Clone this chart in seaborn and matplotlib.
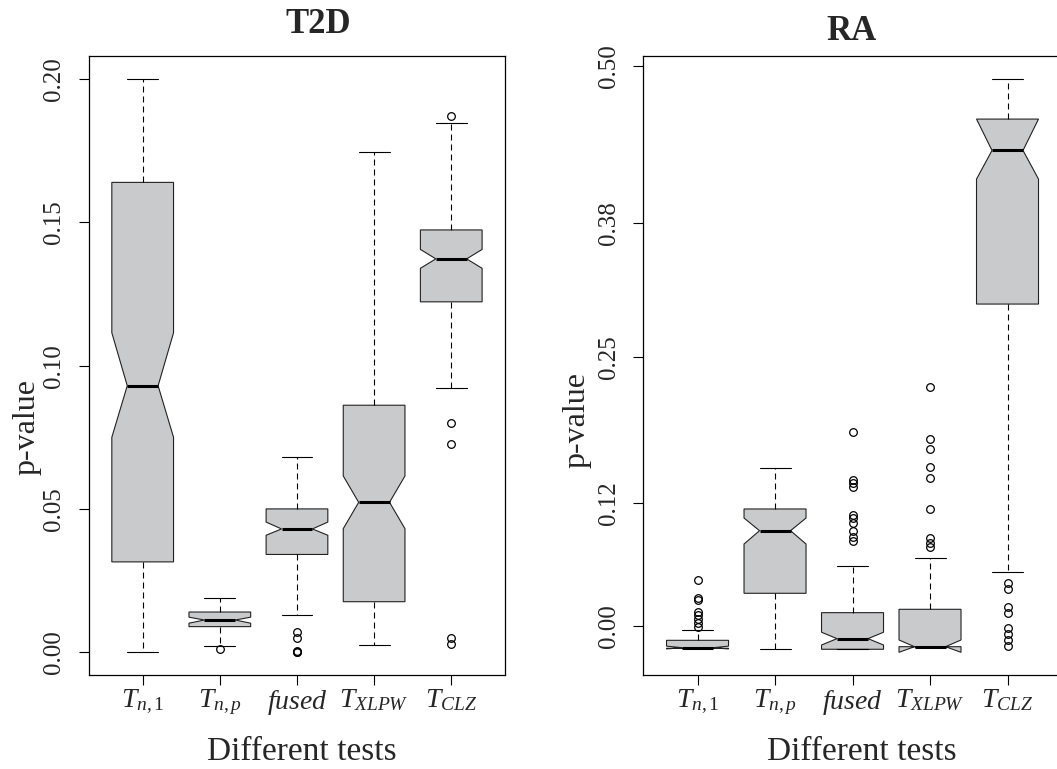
import matplotlib.pyplot as plt
import seaborn as sns

# test names on the x axis
tests = [r"$T_{n,1}$", r"$T_{n,p}$", r"$fused$", r"$T_{XLPW}$", r"$T_{CLZ}$"]

# T2D panel: box summaries
t2d_whislo = [0.0000, 0.0020, 0.0129, 0.0024, 0.0923]
t2d_q1 = [0.0315, 0.0089, 0.0341, 0.0176, 0.1223]
t2d_cilo = [0.0750, 0.0101, 0.0408, 0.0431, 0.1340]
t2d_med = [0.0930, 0.0112, 0.0430, 0.0523, 0.1373]
t2d_cihi = [0.1115, 0.0122, 0.0454, 0.0615, 0.1406]
t2d_q3 = [0.1640, 0.0140, 0.0500, 0.0862, 0.1474]
t2d_whishi = [0.2000, 0.0189, 0.0680, 0.1747, 0.1848]
t2d_fliers = [[], [0.0012], [0.0070, 0.0051, 0.0003, 0.0001, 0.0000], [],
              [0.1872, 0.0799, 0.0726, 0.0049, 0.0028]]
t2d_ticks = [0.00, 0.05, 0.10, 0.15, 0.20]
t2d_ticklabels = ["0.00", "0.05", "0.10", "0.15", "0.20"]

# RA panel
ra_whislo = [-0.0199, -0.0208, -0.0208, -0.0185, 0.0479]
ra_q1 = [-0.0199, 0.0292, -0.0208, -0.0185, 0.2875]
ra_cilo = [-0.0205, 0.0732, -0.0170, -0.0235, 0.3991]
ra_med = [-0.0194, 0.0851, -0.0113, -0.0185, 0.4247]
ra_cihi = [-0.0180, 0.0964, -0.0056, -0.0125, 0.4527]
ra_q3 = [-0.0128, 0.1045, 0.0119, 0.0149, 0.4527]
ra_whishi = [-0.0036, 0.1414, 0.0536, 0.0607, 0.4884]
ra_fliers = [[0.0413, 0.0250, 0.0232, 0.0122, 0.0098, 0.0060, 0.0030, -0.0006],
             [],
             [0.1729, 0.1304, 0.1274, 0.1244, 0.0991, 0.0961, 0.0917, 0.0851, 0.0798, 0.0762],
             [0.2137, 0.1673, 0.1577, 0.1417, 0.1324, 0.1042, 0.0789, 0.0744, 0.0708],
             [0.0387, 0.0328, 0.0167, 0.0113, -0.0021, -0.0071, -0.0125, -0.0179]]
ra_ticks = [0.00, 0.11, 0.24, 0.36, 0.50]
ra_ticklabels = ["0.00", "0.12", "0.25", "0.38", "0.50"]

sns.set_theme(style="white")
plt.rcParams['font.family'] = ['Liberation Serif', 'DejaVu Serif']
plt.rcParams['mathtext.fontset'] = 'custom'
plt.rcParams['mathtext.rm'] = 'Liberation Serif'
plt.rcParams['mathtext.it'] = 'Liberation Serif:italic'
plt.rcParams['mathtext.bf'] = 'Liberation Serif:bold'

fill = '#c9cacc'


def draw_panel(ax, whislo, q1, cilo, med, cihi, q3, whishi, fliers, ticks, ticklabels, ylim):
    stats = []
    for i in range(len(tests)):
        stats.append(dict(whislo=whislo[i], q1=q1[i], cilo=cilo[i], med=med[i], cihi=cihi[i],
                          q3=q3[i], whishi=whishi[i], fliers=fliers[i], label=tests[i]))
    ax.bxp(stats, positions=range(1, len(tests) + 1), widths=0.8, capwidths=0.4,
           shownotches=True, patch_artist=True, manage_ticks=False,
           boxprops=dict(facecolor=fill, edgecolor='#222222', linewidth=0.8),
           medianprops=dict(color='black', linewidth=2.2, solid_capstyle='butt'),
           whiskerprops=dict(color='black', linewidth=0.8, linestyle=(0, (5.4, 3.6))),
           capprops=dict(color='black', linewidth=0.8),
           flierprops=dict(marker='o', markerfacecolor='none', markeredgecolor='black',
                           markersize=5.5, markeredgewidth=0.9, linestyle='none'))
    ax.set_xlim(0.3, len(tests) + 0.7)
    ax.set_ylim(*ylim)
    ax.set_xticks(range(1, len(tests) + 1))
    ax.set_xticklabels(tests, fontsize=20)
    ax.set_yticks(ticks)
    ax.set_yticklabels(ticklabels, fontsize=18, rotation=90, va='center')
    ax.tick_params(axis='both', direction='out', length=7, width=0.8, color='black',
                   left=True, bottom=True)
    ax.tick_params(axis='y', pad=10)
    ax.tick_params(axis='x', pad=2)
    for s in ax.spines.values():
        s.set_visible(True)
        s.set_color('black')
        s.set_linewidth(0.9)
    ax.set_facecolor('white')


fig = plt.figure(figsize=(10.57, 7.69), dpi=100)
ax1 = fig.add_axes([0.0839, 0.1222, 0.3941, 0.8045])
ax2 = fig.add_axes([0.6086, 0.1222, 0.3959, 0.8045])

draw_panel(ax1, t2d_whislo, t2d_q1, t2d_cilo, t2d_med, t2d_cihi, t2d_q3, t2d_whishi,
           t2d_fliers, t2d_ticks, t2d_ticklabels, (-0.008, 0.208))
draw_panel(ax2, ra_whislo, ra_q1, ra_cilo, ra_med, ra_cihi, ra_q3, ra_whishi,
           ra_fliers, ra_ticks, ra_ticklabels, (-0.0438, 0.5087))

fig.text(0.3011, 0.9571, 'T2D', fontsize=25, fontweight='bold', ha='center', va='baseline')
fig.text(0.8054, 0.948, 'RA', fontsize=25, fontweight='bold', ha='center', va='baseline')
fig.text(0.2857, 0.0117, 'Different tests', fontsize=24, ha='center', va='baseline')
fig.text(0.8158, 0.0117, 'Different tests', fontsize=24, ha='center', va='baseline')
fig.text(0.0253, 0.4451, 'p-value', fontsize=23, rotation=90, ha='center', va='center')
fig.text(0.5456, 0.4538, 'p-value', fontsize=23, rotation=90, ha='center', va='center')

plt.savefig('out.png', dpi=100)
